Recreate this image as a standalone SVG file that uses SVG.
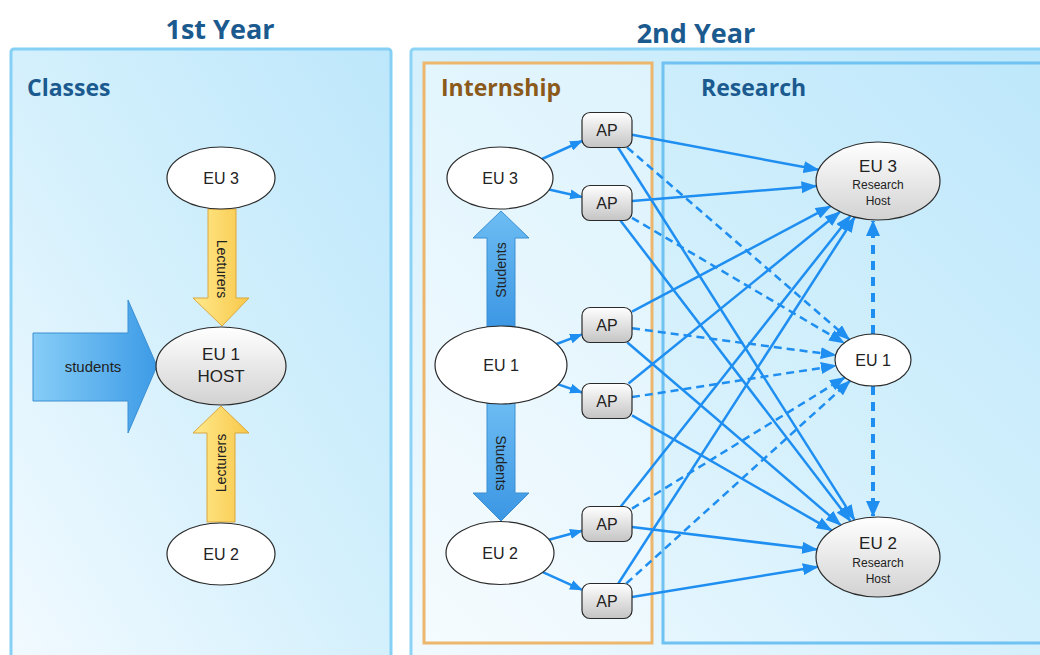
<svg xmlns="http://www.w3.org/2000/svg" width="1040" height="655" viewBox="0 0 1040 655">
<style>
.title{font-family:"Open Sans","Liberation Sans",sans-serif;font-weight:bold;fill:#1b5a8e}
.lbl{font-family:"Liberation Sans",Arial,sans-serif;fill:#222;text-anchor:middle}
.n{font-size:16px}
.s{font-size:12px}
.node{stroke:#2a2a2a;stroke-width:1.2}
.e{stroke:#1f8ef1;stroke-width:2.5;fill:none}
.d{stroke-dasharray:8 5}
.dv{stroke:#1f8ef1;stroke-width:4;fill:none;stroke-dasharray:9 7}
</style>
<defs>
<linearGradient id="bg" x1="1" y1="0" x2="0" y2="1">
<stop offset="0" stop-color="#bde7fb"/>
<stop offset="0.5" stop-color="#d4f0fc"/>
<stop offset="1" stop-color="#f2faff"/>
</linearGradient>
<linearGradient id="gray" x1="0" y1="0" x2="0" y2="1">
<stop offset="0" stop-color="#ffffff"/>
<stop offset="1" stop-color="#d2d2d2"/>
</linearGradient>
<linearGradient id="apg" x1="0" y1="0" x2="0" y2="1">
<stop offset="0" stop-color="#ffffff"/>
<stop offset="1" stop-color="#c4c4c4"/>
</linearGradient>
<linearGradient id="yel" x1="0" y1="0" x2="1" y2="0">
<stop offset="0" stop-color="#ffe98c"/>
<stop offset="1" stop-color="#f8c84a"/>
</linearGradient>
<linearGradient id="blu" x1="0" y1="0" x2="1" y2="0">
<stop offset="0" stop-color="#86cdf7"/>
<stop offset="1" stop-color="#3d9be6"/>
</linearGradient>
<linearGradient id="bluv" x1="0" y1="0" x2="0" y2="1">
<stop offset="0" stop-color="#6dbdf3"/>
<stop offset="1" stop-color="#3b96e3"/>
</linearGradient>
<marker id="ah" viewBox="0 0 16 12" markerWidth="16" markerHeight="12" refX="15" refY="6" orient="auto" markerUnits="userSpaceOnUse">
<path d="M0,0 L16,6 L0,12 Z" fill="#1f8ef1"/>
</marker>
<marker id="ahs" viewBox="0 0 13 10" markerWidth="13" markerHeight="10" refX="12" refY="5" orient="auto" markerUnits="userSpaceOnUse">
<path d="M0,0 L13,5 L0,10 Z" fill="#1f8ef1"/>
</marker>
<marker id="ahb" viewBox="0 0 16 14" markerWidth="16" markerHeight="14" refX="15" refY="7" orient="auto" markerUnits="userSpaceOnUse">
<path d="M0,0 L16,7 L0,14 Z" fill="#1f8ef1"/>
</marker>
</defs>
<rect width="1040" height="655" fill="#ffffff"/>

<g id="panel-1st-year">
<text class="title" x="220" y="39" font-size="27" text-anchor="middle">1st Year</text>
<rect x="11" y="49" width="380" height="620" rx="3" fill="url(#bg)" stroke="#86d0f5" stroke-width="3"/>
<text class="title" x="27" y="96" font-size="23">Classes</text>
</g>

<g id="panel-2nd-year">
<text class="title" x="696" y="43" font-size="27" text-anchor="middle">2nd Year</text>
<rect x="411" y="49" width="650" height="620" rx="3" fill="url(#bg)" stroke="#8dd3f5" stroke-width="3"/>
</g>

<g id="internship">
<rect x="424" y="63" width="228" height="580" fill="#ffffff" fill-opacity="0.35" stroke="#ecb66c" stroke-width="3"/>
<text class="title" x="441" y="96" font-size="23" style="fill:#8b5a1a">Internship</text>
</g>

<g id="research">
<rect x="663" y="63" width="400" height="580" fill="none" stroke="#6fc2f1" stroke-width="3"/>
<text class="title" x="701" y="96" font-size="23">Research</text>
</g>

<g id="flow-arrows">
<g id="lecturers-down">
<polygon points="208,209 236,209 236,298 249,298 222,326 193,298 208,298" fill="url(#yel)" stroke="#dba63d" stroke-width="1"/>
<text class="lbl" font-size="14" transform="translate(222,269) rotate(90)" dy="5">Lecturers</text>
</g>
<g id="lecturers-up">
<polygon points="221,406 249,433 235,433 235,522 207,522 207,433 193,433" fill="url(#yel)" stroke="#dba63d" stroke-width="1"/>
<text class="lbl" font-size="14" transform="translate(221,463) rotate(-90)" dy="5">Lecturers</text>
</g>
<g id="students-in">
<polygon points="33,333 128,333 128,300 157,366 128,433 128,401 33,401" fill="url(#blu)" stroke="#3c8fd2" stroke-width="1"/>
<text class="lbl" font-size="15" x="93" y="372">students</text>
</g>
<g id="students-up">
<polygon points="501,211 529,238 515,238 515,330 487,330 487,238 473,238" fill="url(#bluv)" stroke="#3c8fd2" stroke-width="1"/>
<text class="lbl" font-size="14" transform="translate(501,270) rotate(-90)" dy="5">Students</text>
</g>
<g id="students-down">
<polygon points="487,400 515,400 515,493 529,493 501,521 473,493 487,493" fill="url(#bluv)" stroke="#3c8fd2" stroke-width="1"/>
<text class="lbl" font-size="14" transform="translate(501,463) rotate(90)" dy="5">Students</text>
</g>
</g>

<g id="connectors">
<line class="e" x1="542" y1="159" x2="582" y2="141" marker-end="url(#ahs)"/>
<line class="e" x1="549" y1="189.5" x2="582" y2="197" marker-end="url(#ahs)"/>
<line class="e" x1="556.6" y1="344" x2="582" y2="334.4" marker-end="url(#ahs)"/>
<line class="e" x1="558.2" y1="384.4" x2="582" y2="392.5" marker-end="url(#ahs)"/>
<line class="e" x1="549" y1="539.7" x2="582" y2="530.8" marker-end="url(#ahs)"/>
<line class="e" x1="542.8" y1="572.2" x2="582" y2="589.8" marker-end="url(#ahs)"/>

<line class="e" x1="632" y1="134.7" x2="818.6" y2="169.8" marker-end="url(#ah)"/>
<line class="e d" x1="627.2" y1="147.5" x2="849.4" y2="339.6" marker-end="url(#ah)"/>
<line class="e" x1="618.1" y1="147.5" x2="854.5" y2="520" marker-end="url(#ah)"/>

<line class="e" x1="632" y1="201" x2="816.5" y2="186" marker-end="url(#ah)"/>
<line class="e d" x1="632" y1="217.8" x2="844.2" y2="343" marker-end="url(#ah)"/>
<line class="e" x1="620.4" y1="220.5" x2="850.5" y2="521.1" marker-end="url(#ah)"/>

<line class="e" x1="632" y1="311.7" x2="830.6" y2="206.2" marker-end="url(#ah)"/>
<line class="e d" x1="632" y1="328.3" x2="835.7" y2="355.1" marker-end="url(#ah)"/>
<line class="e" x1="627.4" y1="342.5" x2="840.7" y2="525.1" marker-end="url(#ah)"/>

<line class="e" x1="628.5" y1="383.5" x2="840" y2="211.8" marker-end="url(#ah)"/>
<line class="e d" x1="632" y1="397.1" x2="835.9" y2="365.7" marker-end="url(#ah)"/>
<line class="e" x1="632" y1="415.4" x2="831.7" y2="530.4" marker-end="url(#ah)"/>

<line class="e" x1="620.8" y1="506.5" x2="850.4" y2="215.9" marker-end="url(#ah)"/>
<line class="e d" x1="632" y1="508.6" x2="844.8" y2="377.4" marker-end="url(#ah)"/>
<line class="e" x1="632" y1="527" x2="817.1" y2="549.6" marker-end="url(#ah)"/>

<line class="e" x1="618.3" y1="583.5" x2="854.7" y2="217.2" marker-end="url(#ah)"/>
<line class="e d" x1="626.3" y1="583.5" x2="850.1" y2="380.8" marker-end="url(#ah)"/>
<line class="e" x1="632" y1="596.9" x2="817.8" y2="566.8" marker-end="url(#ah)"/>

<line class="dv" x1="873" y1="334" x2="873" y2="221" marker-end="url(#ahb)"/>
<line class="dv" x1="873" y1="386" x2="873" y2="516" marker-end="url(#ahb)"/>
</g>

<g id="c-eu3">
<ellipse class="node" cx="221" cy="178" rx="54" ry="31" fill="#ffffff"/>
<text class="lbl n" x="221" y="184">EU 3</text>
</g>
<g id="c-eu1-host">
<ellipse class="node" cx="221" cy="366" rx="65" ry="39" fill="url(#gray)"/>
<text class="lbl" font-size="17" x="221" y="360">EU 1</text>
<text class="lbl" font-size="17" x="221" y="382">HOST</text>
</g>
<g id="c-eu2">
<ellipse class="node" cx="221" cy="554" rx="54" ry="31" fill="#ffffff"/>
<text class="lbl n" x="221" y="560">EU 2</text>
</g>

<g id="i-eu3">
<ellipse class="node" cx="500" cy="178" rx="53" ry="31" fill="#ffffff"/>
<text class="lbl n" x="500" y="184">EU 3</text>
</g>
<g id="i-eu1">
<ellipse class="node" cx="501" cy="365" rx="66" ry="39" fill="#ffffff"/>
<text class="lbl n" x="501" y="371">EU 1</text>
</g>
<g id="i-eu2">
<ellipse class="node" cx="500" cy="553" rx="54" ry="31.5" fill="#ffffff"/>
<text class="lbl n" x="500" y="559">EU 2</text>
</g>

<g id="ap1"><rect class="node" x="582" y="112.5" width="50" height="35" rx="8" fill="url(#apg)"/><text class="lbl n" x="607" y="136">AP</text></g>
<g id="ap2"><rect class="node" x="582" y="185.5" width="50" height="35" rx="8" fill="url(#apg)"/><text class="lbl n" x="607" y="209">AP</text></g>
<g id="ap3"><rect class="node" x="582" y="307.5" width="50" height="35" rx="8" fill="url(#apg)"/><text class="lbl n" x="607" y="331">AP</text></g>
<g id="ap4"><rect class="node" x="582" y="383.5" width="50" height="35" rx="8" fill="url(#apg)"/><text class="lbl n" x="607" y="407">AP</text></g>
<g id="ap5"><rect class="node" x="582" y="506.5" width="50" height="35" rx="8" fill="url(#apg)"/><text class="lbl n" x="607" y="530">AP</text></g>
<g id="ap6"><rect class="node" x="582" y="583.5" width="50" height="35" rx="8" fill="url(#apg)"/><text class="lbl n" x="607" y="607">AP</text></g>

<g id="r-eu3">
<ellipse class="node" cx="878" cy="181" rx="62" ry="39" fill="url(#gray)"/>
<text class="lbl" font-size="17" x="878" y="172">EU 3</text>
<text class="lbl s" x="878" y="189">Research</text>
<text class="lbl s" x="878" y="205">Host</text>
</g>
<g id="r-eu1">
<ellipse class="node" cx="873" cy="360" rx="38" ry="26" fill="#ffffff"/>
<text class="lbl n" x="873" y="366">EU 1</text>
</g>
<g id="r-eu2">
<ellipse class="node" cx="878" cy="557" rx="62" ry="40" fill="url(#gray)"/>
<text class="lbl" font-size="17" x="878" y="549">EU 2</text>
<text class="lbl s" x="878" y="567">Research</text>
<text class="lbl s" x="878" y="583">Host</text>
</g>
</svg>
